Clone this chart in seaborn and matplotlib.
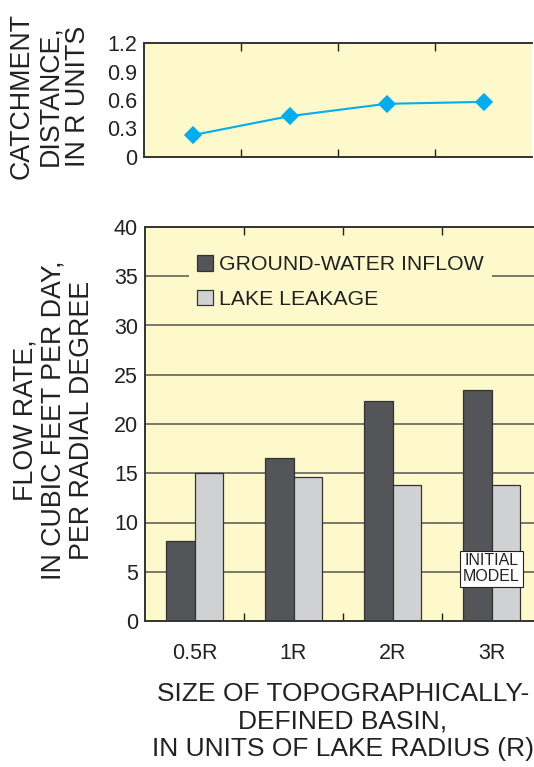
import numpy as np
import pandas as pd
import matplotlib
matplotlib.use('Agg')
import matplotlib.pyplot as plt
import seaborn as sns

# Chart values
basins = ['0.5R', '1R', '2R', '3R']
catchment = [0.23, 0.43, 0.56, 0.58]
gw_inflow = [8.1, 16.5, 22.3, 23.5]
lake_leakage = [15.0, 14.6, 13.8, 13.8]
series_names = ['GROUND-WATER INFLOW', 'LAKE LEAKAGE']
top_yticks = [0, 0.3, 0.6, 0.9, 1.2]
bot_yticks = [0, 5, 10, 15, 20, 25, 30, 35, 40]

bg = '#FEF9CB'
dark = '#545558'
light = '#D0D1D3'
cyan = '#00AEEF'

sns.set_theme(style='white')
plt.rcParams['font.family'] = ['Liberation Sans', 'DejaVu Sans']

flow_df = pd.DataFrame({
    'basin': basins * 2,
    'series': [series_names[0]] * 4 + [series_names[1]] * 4,
    'value': gw_inflow + lake_leakage,
})
catch_df = pd.DataFrame({'basin': basins, 'value': catchment})

fig = plt.figure(figsize=(5.34, 7.67), dpi=100)
ax1 = fig.add_axes([144 / 534, 1 - 157 / 767, 388 / 534, 114 / 767])
ax2 = fig.add_axes([145 / 534, 1 - 621 / 767, 396 / 534, 394 / 767])

# top panel: catchment distance
ax1.set_facecolor(bg)
sns.pointplot(ax=ax1, data=catch_df, x='basin', y='value', color=cyan,
              markers='D', markersize=8.5, linewidth=1.5, errorbar=None)
ax1.set(xlim=(-0.5, 3.5), ylim=(0, 1.2), xlabel='', ylabel='')
ax1.set_yticks(top_yticks)
ax1.set_yticklabels(['0', '0.3', '0.6', '0.9', '1.2'])
ax1.set_xticks([])
ax1.set_xticks([0.5, 1.5, 2.5], minor=True)
ax1.tick_params(axis='x', which='minor', direction='in', length=6, width=1,
                top=True, bottom=True, color='#222222')
ax1.tick_params(axis='y', length=0, pad=5, labelsize=15.5, labelcolor='#222222')

# bottom panel: flow rates
ax2.set_facecolor(bg)
for yv in bot_yticks[1:-1]:
    ax2.axhline(yv, color='#555555', lw=1.1, zorder=0)
sns.barplot(ax=ax2, data=flow_df, x='basin', y='value', hue='series',
            palette=[dark, light], width=0.58, edgecolor='#333333',
            linewidth=0.9, saturation=1, zorder=2)
ax2.set(xlim=(-0.5, 3.5), ylim=(0, 40), ylabel='')
ax2.set_yticks(bot_yticks)
ax2.set_xticks(range(4))
ax2.set_xticklabels(basins)
ax2.set_xticks([0.5, 1.5, 2.5], minor=True)
ax2.tick_params(axis='x', which='major', length=0, pad=16, labelsize=15.5,
                labelcolor='#222222')
ax2.tick_params(axis='x', which='minor', direction='in', length=6, width=1,
                top=True, bottom=True, color='#222222')
ax2.tick_params(axis='y', length=0, pad=5, labelsize=15.5, labelcolor='#222222')
ax2.set_xlabel('SIZE OF TOPOGRAPHICALLY-\nDEFINED BASIN,\nIN UNITS OF LAKE RADIUS (R)',
               fontsize=19, labelpad=13, linespacing=1.18, color='#222222')

leg = ax2.legend(title=None, loc='upper left', bbox_to_anchor=(0.11, 0.95),
                 fontsize=15.3, handlelength=0.75, handleheight=0.75,
                 handletextpad=0.3, labelspacing=0.72, frameon=True,
                 borderaxespad=0)
leg.get_frame().set_facecolor(bg)
leg.get_frame().set_edgecolor('none')
leg.get_frame().set_alpha(1)
for t in leg.get_texts():
    t.set_color('#222222')

ax2.text(3, 5.3, 'INITIAL\nMODEL', ha='center', va='center', fontsize=11.5,
         linespacing=1.05, zorder=5, color='#222222',
         bbox=dict(boxstyle='square,pad=0.18', facecolor='white',
                   edgecolor='#222222', lw=0.8))

for ax in (ax1, ax2):
    for side in ('left', 'bottom', 'top'):
        ax.spines[side].set_color('#333333')
        ax.spines[side].set_linewidth(1.4)
    ax.spines['right'].set_visible(False)

fig.text(50 / 534, 1 - 96 / 767, 'CATCHMENT\nDISTANCE,\nIN R UNITS',
         rotation=90, ha='center', va='center', fontsize=19.3,
         linespacing=1.1, multialignment='center', color='#222222')
fig.text(54 / 534, 1 - 420 / 767, 'FLOW RATE,\nIN CUBIC FEET PER DAY,\nPER RADIAL DEGREE',
         rotation=90, ha='center', va='center', fontsize=19.3,
         linespacing=1.1, multialignment='center', color='#222222')

fig.savefig('out.png', dpi=100, facecolor='white')
